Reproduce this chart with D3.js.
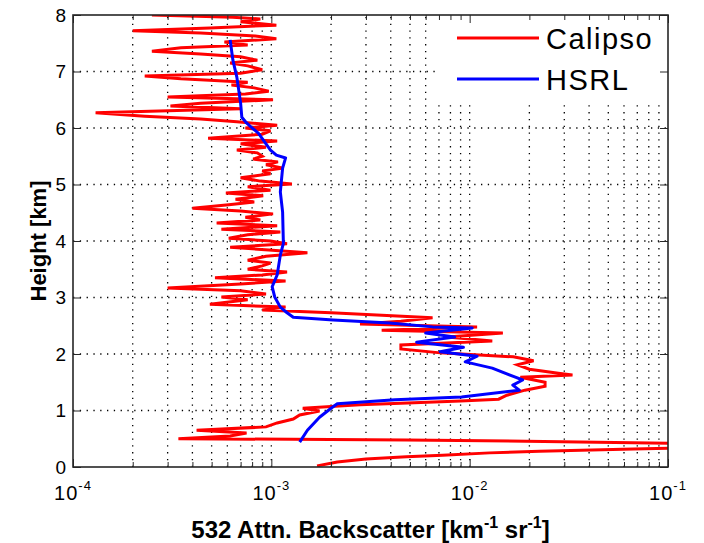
<!DOCTYPE html>
<html>
<head>
<meta charset="utf-8">
<script src="https://cdn.jsdelivr.net/npm/d3@7"></script>
<style>
  body { margin: 0; background: #fff; }
  text { font-family: "Liberation Sans", Arial, sans-serif; }
</style>
</head>
<body>
<div id="chart"></div>
<script>
// Calipso profile: height (km) and attenuated backscatter (km^-1 sr^-1)
const calipsoHeight = [
  8.00, 7.96, 7.93, 7.88, 7.82, 7.77, 7.72, 7.68, 7.63, 7.58,
  7.52, 7.47, 7.42, 7.36, 7.31, 7.26, 7.20, 7.15, 7.10, 7.03,
  6.97, 6.92, 6.87, 6.81, 6.76, 6.71, 6.65, 6.60, 6.55, 6.50,
  6.44, 6.39, 6.34, 6.27, 6.21, 6.16, 6.11, 6.05, 6.00, 5.95,
  5.89, 5.82, 5.77, 5.72, 5.66, 5.61, 5.56, 5.50, 5.45, 5.40,
  5.35, 5.29, 5.24, 5.19, 5.12, 5.06, 5.01, 4.96, 4.90, 4.85,
  4.80, 4.74, 4.69, 4.64, 4.58, 4.53, 4.48, 4.42, 4.37, 4.32,
  4.27, 4.21, 4.16, 4.11, 4.05, 4.00, 3.95, 3.89, 3.84, 3.79,
  3.73, 3.66, 3.61, 3.56, 3.50, 3.45, 3.40, 3.35, 3.29, 3.24,
  3.17, 3.12, 3.06, 3.01, 2.96, 2.88, 2.83, 2.78, 2.73, 2.69,
  2.64, 2.58, 2.53, 2.48, 2.42, 2.37, 2.30, 2.23, 2.16, 2.09,
  2.02, 1.95, 1.88, 1.81, 1.73, 1.66, 1.63, 1.59, 1.50, 1.43,
  1.36, 1.27, 1.20, 1.17, 1.13, 1.10, 1.07, 1.04, 0.99, 0.92,
  0.85, 0.78, 0.71, 0.65, 0.60, 0.55, 0.50, 0.48, 0.44, 0.41,
  0.34, 0.32, 0.28, 0.25, 0.21, 0.18, 0.14, 0.09, 0.02
];
const calipsoValue = [
  2.5e-4, 6.4e-4, 8.8e-4, 7.0e-4, 1.06e-3, 4.9e-4, 2.0e-4, 4.4e-4, 8.3e-4, 1.06e-3,
  5.8e-4, 7.6e-4, 3.5e-4, 2.5e-4, 4.4e-4, 7.0e-4, 8.5e-4, 6.2e-4, 7.6e-4, 9.0e-4,
  7.0e-4, 2.3e-4, 3.5e-4, 7.6e-4, 6.3e-4, 8.2e-4, 9.7e-4, 7.4e-4, 3.0e-4, 1.02e-3,
  4.4e-4, 3.1e-4, 7.0e-4, 1.3e-4, 2.3e-4, 4.4e-4, 6.7e-4, 1.07e-3, 7.4e-4, 9.9e-4,
  9.0e-4, 4.8e-4, 1.07e-3, 7.0e-4, 9.4e-4, 6.7e-4, 8.5e-4, 9.0e-4, 8.1e-4, 1.08e-3,
  9.4e-4, 1.15e-3, 9.0e-4, 9.9e-4, 7.0e-4, 8.8e-4, 1.27e-3, 7.6e-4, 9.9e-4, 5.9e-4,
  9.1e-4, 6.6e-4, 8.2e-4, 6.1e-4, 4.0e-4, 7.0e-4, 1.02e-3, 7.4e-4, 8.8e-4, 5.3e-4,
  1.07e-3, 5.6e-4, 1.11e-3, 7.6e-4, 6.1e-4, 9.9e-4, 1.2e-3, 6.2e-4, 9.7e-4, 1.52e-3,
  9.4e-4, 7.6e-4, 9.9e-4, 9.0e-4, 7.6e-4, 1.2e-3, 9.0e-4, 5.2e-4, 1.18e-3, 7.0e-4,
  3.0e-4, 7.0e-4, 9.4e-4, 5.6e-4, 7.6e-4, 4.9e-4, 1.18e-3, 9.0e-4, 2.0e-3, 3.4e-3,
  6.5e-3, 4.5e-3, 2.8e-3, 1.09e-2, 3.6e-3, 1.47e-2, 7.7e-3, 1.3e-2, 4.5e-3, 4.5e-3,
  7.1e-3, 1.66e-2, 2.1e-2, 1.74e-2, 2.0e-2, 2.8e-2, 3.3e-2, 1.8e-2, 2.4e-2, 2.4e-2,
  1.9e-2, 1.54e-2, 1.4e-2, 9.0e-3, 4.5e-3, 2.8e-3, 2.0e-3, 1.44e-3, 1.75e-3, 1.39e-3,
  1.29e-3, 1.07e-3, 9.4e-4, 4.2e-4, 7.5e-4, 6.2e-4, 3.4e-4, 4.8e-3, 4.4e-2, 1.5e-1,
  1.5e-1, 6.7e-2, 2.25e-2, 1.26e-2, 7.3e-3, 4.8e-3, 3.0e-3, 2.15e-3, 1.7e-3
];

// HSRL profile
const hsrlHeight = [
  7.56, 7.20, 6.90, 6.44, 6.19, 6.09, 6.00, 5.91, 5.61, 5.52,
  5.47, 5.29, 4.87, 4.51, 3.96, 3.75, 3.40, 3.19, 3.01, 2.83,
  2.73, 2.65, 2.60, 2.55, 2.48, 2.46, 2.37, 2.30, 2.21, 2.12,
  2.04, 1.96, 1.86, 1.75, 1.59, 1.54, 1.45, 1.36, 1.24, 1.19,
  1.12, 1.04, 0.88, 0.65, 0.44
];
const hsrlValue = [
  6.2e-4, 6.4e-4, 6.7e-4, 7.0e-4, 7.1e-4, 7.5e-4, 8.0e-4, 8.6e-4, 9.9e-4, 1.06e-3,
  1.18e-3, 1.14e-3, 1.11e-3, 1.14e-3, 1.15e-3, 1.11e-3, 1.07e-3, 1.01e-3, 1.04e-3, 1.11e-3,
  1.2e-3, 1.29e-3, 2.05e-3, 3.95e-3, 6.5e-3, 1.03e-2, 6.0e-3, 8.4e-3, 5.4e-3, 9.3e-3,
  7.1e-3, 1.09e-2, 9.5e-3, 1.3e-2, 1.7e-2, 1.85e-2, 1.65e-2, 1.78e-2, 9.1e-3, 4.2e-3,
  2.15e-3, 2.0e-3, 1.75e-3, 1.52e-3, 1.39e-3
];

const xDecades = [-4, -3, -2, -1];
const yTicks = [0, 1, 2, 3, 4, 5, 6, 7, 8];
const legendNames = ["Calipso", "HSRL"];

const COLOR_CALIPSO = "#ff0000";
const COLOR_HSRL = "#0000ff";
const AXIS_COLOR = "#262626";

const size = { width: 704, height: 543 };
const margin = { top: 15, right: 36, bottom: 76, left: 73 };
const width = size.width - margin.left - margin.right;
const height = size.height - margin.top - margin.bottom;

const svg = d3.select("#chart")
  .append("svg")
  .attr("width", size.width)
  .attr("height", size.height);

const g = svg.append("g")
  .attr("transform", `translate(${margin.left},${margin.top})`);

const xScale = d3.scaleLog()
  .domain([1e-4, 1e-1])
  .range([0, width]);

const yScale = d3.scaleLinear()
  .domain([0, 8])
  .range([height, 0]);

// minor positions 2..9 in every decade
const xMinor = [];
xDecades.slice(0, -1).forEach(e => {
  for (let m = 2; m <= 9; m++) xMinor.push(m * Math.pow(10, e));
});
const xMajor = xDecades.map(e => Math.pow(10, e));

svg.append("defs").append("clipPath")
  .attr("id", "plot-clip")
  .append("rect")
  .attr("width", width)
  .attr("height", height);

// dotted grid
const grid = g.append("g").attr("class", "grid")
  .attr("stroke", "#000")
  .attr("stroke-width", 1.3)
  .attr("stroke-dasharray", "1.3,5.5");

grid.selectAll(".vgrid")
  .data(xMinor.concat(xMajor.slice(1, -1)))
  .enter().append("line")
  .attr("x1", d => xScale(d)).attr("x2", d => xScale(d))
  .attr("y1", height).attr("y2", 0);

grid.selectAll(".hgrid")
  .data(yTicks.slice(1, -1))
  .enter().append("line")
  .attr("x1", 0).attr("x2", width)
  .attr("y1", d => yScale(d)).attr("y2", d => yScale(d));

// profiles
const line = d3.line()
  .x(d => xScale(d[1]))
  .y(d => yScale(d[0]));

const plot = g.append("g").attr("clip-path", "url(#plot-clip)");

plot.append("path")
  .datum(d3.zip(calipsoHeight, calipsoValue))
  .attr("fill", "none")
  .attr("stroke", COLOR_CALIPSO)
  .attr("stroke-width", 3)
  .attr("stroke-linejoin", "miter")
  .attr("d", line);

plot.append("path")
  .datum(d3.zip(hsrlHeight, hsrlValue))
  .attr("fill", "none")
  .attr("stroke", COLOR_HSRL)
  .attr("stroke-width", 3)
  .attr("stroke-linejoin", "round")
  .attr("d", line);

// legend (white box, no border)
const legend = g.append("g").attr("class", "legend");
legend.append("rect")
  .attr("x", 365).attr("y", 0)
  .attr("width", width - 365).attr("height", 85)
  .attr("fill", "#fff");

legendNames.forEach((name, i) => {
  const ly = 23 + i * 41;
  legend.append("line")
    .attr("x1", 384).attr("x2", 466)
    .attr("y1", ly).attr("y2", ly)
    .attr("stroke", i === 0 ? COLOR_CALIPSO : COLOR_HSRL)
    .attr("stroke-width", 3);
  legend.append("text")
    .attr("x", 473)
    .attr("y", ly + 10.5)
    .attr("font-size", 29)
    .attr("letter-spacing", 1.5)
    .attr("fill", "#000")
    .text(name);
});

// ticks, inward on all four sides
function styleAxis(sel) {
  sel.select(".domain").remove();
  sel.selectAll(".tick line").attr("stroke", AXIS_COLOR).attr("stroke-width", 1);
}

g.append("g").attr("transform", `translate(0,${height})`)
  .call(d3.axisBottom(xScale).tickValues(xMinor).tickSize(-5).tickFormat(""))
  .call(styleAxis);
g.append("g").attr("transform", `translate(0,${height})`)
  .call(d3.axisBottom(xScale).tickValues(xMajor).tickSize(-8).tickFormat(""))
  .call(styleAxis);
g.append("g")
  .call(d3.axisTop(xScale).tickValues(xMinor).tickSize(-5).tickFormat(""))
  .call(styleAxis);
g.append("g")
  .call(d3.axisTop(xScale).tickValues(xMajor).tickSize(-8).tickFormat(""))
  .call(styleAxis);
g.append("g")
  .call(d3.axisLeft(yScale).tickValues(yTicks).tickSize(-8).tickFormat(""))
  .call(styleAxis);
g.append("g").attr("transform", `translate(${width},0)`)
  .call(d3.axisRight(yScale).tickValues(yTicks).tickSize(-8).tickFormat(""))
  .call(styleAxis);

// axes box
g.append("rect")
  .attr("width", width)
  .attr("height", height)
  .attr("fill", "none")
  .attr("stroke", AXIS_COLOR)
  .attr("stroke-width", 1.6);

// tick labels
g.selectAll(".ylabel")
  .data(yTicks)
  .enter().append("text")
  .attr("x", -7)
  .attr("y", d => yScale(d))
  .attr("dy", "0.36em")
  .attr("text-anchor", "end")
  .attr("font-size", 19)
  .attr("fill", "#000")
  .text(d => d);

const xLabels = g.selectAll(".xlabel")
  .data(xDecades)
  .enter().append("text")
  .attr("x", d => xScale(Math.pow(10, d)))
  .attr("y", height + 33)
  .attr("text-anchor", "middle")
  .attr("font-size", 20)
  .attr("letter-spacing", 1)
  .attr("fill", "#000");
xLabels.append("tspan").text("10");
xLabels.append("tspan")
  .attr("dy", -10)
  .attr("font-size", 13)
  .text(d => d);

// axis titles
const xTitle = g.append("text")
  .attr("x", width / 2)
  .attr("y", height + 71)
  .attr("text-anchor", "middle")
  .attr("font-size", 24)
  .attr("font-weight", "bold")
  .attr("fill", "#000");
xTitle.append("tspan").text("532 Attn. Backscatter [km");
xTitle.append("tspan").attr("dy", -10).attr("font-size", 16).text("-1");
xTitle.append("tspan").attr("dy", 10).text(" sr");
xTitle.append("tspan").attr("dy", -10).attr("font-size", 16).text("-1");
xTitle.append("tspan").attr("dy", 10).text("]");

g.append("text")
  .attr("transform", `translate(${-27},${height / 2}) rotate(-90)`)
  .attr("text-anchor", "middle")
  .attr("font-size", 22)
  .attr("font-weight", "bold")
  .attr("fill", "#000")
  .text("Height [km]");
</script>
</body>
</html>
